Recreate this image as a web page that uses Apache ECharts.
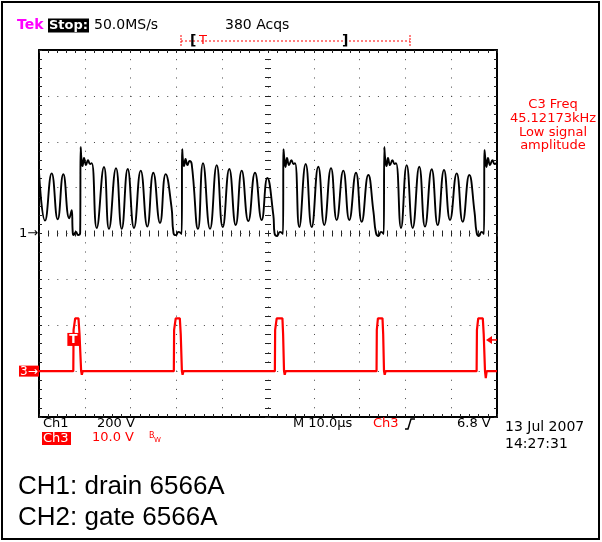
<!DOCTYPE html>
<html><head><meta charset="utf-8">
<script src="https://cdn.jsdelivr.net/npm/echarts@6/dist/echarts.min.js"></script>
<style>html,body{margin:0;padding:0;background:#fff}#c{width:602px;height:542px}</style>
</head><body><div id="c"></div>
<script>
// ---------- DATA ----------
// CH1 (drain) : [time µs, volts]  200 V/div, ground at centre
const ch1Points = [
  [0,268],[1.31,56],[2.77,262],[4.08,62],[5.31,258],[6.62,66],[7.14,102],
  [7.36,7],[7.53,-7],[8.08,7],[8.52,-7],[8.99,2],
  [9.10,377],[9.28,320],[9.50,294],[9.83,329],[10.26,298],[10.70,320],[11.14,303],[11.51,307],
  [12.60,24],[14.19,290],[15.28,20],[16.81,285],[18.06,20],[19.37,281],[20.74,24],[22.21,274],
  [23.65,30],[24.96,265],[26.42,46],[27.66,259],[28.93,115],
  [29.37,2],[29.91,-7],[30.46,7],[31.16,-2],
  [31.27,368],[31.44,316],[31.66,294],[31.99,325],[32.42,298],[32.86,316],[33.34,303],
  [34.72,20],[35.81,307],[37.34,20],[38.80,298],[40.11,28],[41.55,281],[42.95,37],[44.26,274],
  [45.70,54],[47.16,265],[48.62,59],[49.85,242],[51.16,81],
  [51.42,2],[51.97,-11],[52.62,7],[53.28,-2],
  [53.38,368],[53.60,320],[53.82,290],[54.15,329],[54.59,298],[55.13,320],[55.57,303],[55.90,307],
  [56.83,28],[58.23,303],[59.54,28],[60.98,291],[62.29,37],[63.76,285],[65.00,59],[66.44,274],
  [67.75,59],[69.21,265],[70.46,51],[71.90,255],[73.03,94],
  [73.58,2],[74.13,-11],[74.67,7],[75.28,-2],
  [75.39,377],[75.61,320],[75.87,294],[76.20,329],[76.64,298],[77.18,320],[77.62,303],[77.95,307],
  [79.04,24],[80.28,298],[81.59,24],[83.03,291],[84.28,30],[85.74,280],[87.05,37],[88.43,277],
  [89.74,59],[91.20,262],[92.51,51],[93.95,255],[95.09,94],
  [95.57,2],[96.07,-11],[96.62,7],[97.16,-2],
  [97.27,364],[97.49,320],[97.71,290],[98.03,329],[98.47,298],[99.02,320],[99.45,303],[100,307]
];
// CH3 (gate) : [time µs, volts]  10 V/div, ground one division above bottom
const ch3Points = [
  [0,0],
  [7.49,0],[7.55,9],[7.90,11.5],[8.62,11.5],[8.85,8],[9.20,0],[9.35,-0.8],[9.55,0],
  [29.44,0],[29.50,9],[29.85,11.5],[30.75,11.5],[30.95,8],[31.20,0],[31.35,-0.8],[31.55,0],
  [51.50,0],[51.56,9],[51.90,11.5],[53.15,11.5],[53.30,8],[53.50,0],[53.65,-0.8],[53.85,0],
  [73.70,0],[73.76,9],[74.00,11.5],[75.00,11.5],[75.15,8],[75.33,0],[75.48,-0.8],[75.68,0],
  [95.55,0],[95.62,9],[95.90,11.5],[96.90,11.5],[97.10,8],[97.38,0],[97.55,-1.5],[97.75,0],
  [100,0]
];
const timeRange = [0, 100];      // µs, 10 µs/div
const ch1Range = [-800, 800];    // V, 200 V/div
const ch3Range = [-10, 70];      // V, 10 V/div
const triggerTime = 7.5;         // µs
const triggerLevel = 6.8;        // V
const headerTexts = ['Tek', 'Stop:', '50.0MS/s', '380 Acqs'];
const measureTexts = ['C3 Freq', '45.12173kHz', 'Low signal', 'amplitude'];
const footerTexts = ['Ch1', '200 V', 'Ch3', '10.0 V', 'M 10.0µs', 'Ch3', '6.8 V', '13 Jul 2007', '14:27:31'];
const captionTexts = ['CH1: drain 6566A', 'CH2: gate 6566A'];

// ---------- CHART ----------
const chart = echarts.init(document.getElementById('c'), null, {renderer: 'canvas'});
const dotted = {color: '#444', width: 1, type: [1, 8.16]};
const tickStyle = {color: '#222', width: 1};
function divX(pos, extra) {
  return Object.assign({
    type: 'value', min: -5, max: 5, interval: 1, position: pos,
    axisLine: {show: true, onZero: false, lineStyle: {color: '#000', width: 2}},
    axisTick: {show: true, inside: true, length: 3, lineStyle: tickStyle},
    minorTick: {show: true, splitNumber: 5, length: 3, lineStyle: tickStyle},
    axisLabel: {show: false}, splitLine: {show: false}
  }, extra || {});
}
function divY(pos, extra) {
  return Object.assign({
    type: 'value', min: -4, max: 4, interval: 1, position: pos,
    axisLine: {show: true, onZero: false, lineStyle: {color: '#000', width: 2}},
    axisTick: {show: true, inside: true, length: 3, lineStyle: tickStyle},
    minorTick: {show: true, splitNumber: 5, length: 3, lineStyle: tickStyle},
    axisLabel: {show: false}, splitLine: {show: false}
  }, extra || {});
}
const F = '"DejaVu Sans", Verdana, sans-serif';

const option = {
  animation: false,
  backgroundColor: '#fff',
  grid: {left: 39, top: 50, width: 458, height: 367, containLabel: false},
  xAxis: [
    {type: 'value', min: timeRange[0], max: timeRange[1], show: false},
    divX('bottom', {splitLine: {show: true, lineStyle: dotted}}),
    divX('top'),
    divX('bottom', {axisLine: {show: false, onZero: true, onZeroAxisIndex: 2}}),
    divX('bottom', {axisLine: {show: false, onZero: true, onZeroAxisIndex: 2},
      axisTick: {show: true, inside: false, length: 3, lineStyle: tickStyle}})
  ],
  yAxis: [
    {type: 'value', min: ch1Range[0], max: ch1Range[1], show: false},
    {type: 'value', min: ch3Range[0], max: ch3Range[1], show: false},
    divY('left', {splitLine: {show: true, lineStyle: dotted}}),
    divY('right'),
    divY('left', {axisLine: {show: false, onZero: true, onZeroAxisIndex: 1}}),
    divY('left', {axisLine: {show: false, onZero: true, onZeroAxisIndex: 1},
      axisTick: {show: true, inside: false, length: 3, lineStyle: tickStyle}})
  ],
  series: [
    {name: 'CH1', type: 'line', xAxisIndex: 0, yAxisIndex: 0, data: ch1Points,
     showSymbol: false, smooth: 0.5, z: 4, clip: true,
     lineStyle: {color: '#000', width: 1.9}},
    {name: 'CH3', type: 'line', xAxisIndex: 0, yAxisIndex: 1, data: ch3Points,
     showSymbol: false, z: 5, clip: true,
     lineStyle: {color: '#ff0000', width: 2.2}}
  ]
};
chart.setOption(option);

// positions of reference markers from the axes
const g1 = chart.convertToPixel({xAxisIndex: 0, yAxisIndex: 0}, [timeRange[0], 0]);
const g3 = chart.convertToPixel({xAxisIndex: 0, yAxisIndex: 1}, [timeRange[0], 0]);
const trg = chart.convertToPixel({xAxisIndex: 0, yAxisIndex: 1}, [triggerTime, triggerLevel]);
const lvl = chart.convertToPixel({xAxisIndex: 0, yAxisIndex: 1}, [timeRange[1], triggerLevel]);

function txt(x, y, s, fill, size, weight, align, family) {
  return {type: 'text', x: x, y: y, z: 10, silent: true,
    style: {text: s, fill: fill || '#000', font: (weight || 'normal') + ' ' + (size || 13) + 'px ' + (family || F),
      textAlign: align || 'left', textVerticalAlign: 'middle'}};
}
const gr = [
  // outer frame
  {type: 'rect', shape: {x: 2, y: 2, width: 597, height: 537}, style: {fill: 'none', stroke: '#000', lineWidth: 2}, z: 10},
  // header
  txt(17, 25, headerTexts[0], '#ff00ff', 14, 'bold'),
  {type: 'rect', shape: {x: 48, y: 18.5, width: 41, height: 14}, style: {fill: '#000'}, z: 10},
  txt(49, 25.5, headerTexts[1], '#fff', 13, 'bold'),
  txt(94, 25, headerTexts[2], '#000', 14),
  txt(225, 25, headerTexts[3], '#000', 14),
  // record bar
  {type: 'line', shape: {x1: 181, y1: 41, x2: 410, y2: 41}, style: {stroke: '#ff0000', lineWidth: 1, lineDash: [2, 2]}, z: 10},
  {type: 'line', shape: {x1: 181, y1: 35, x2: 181, y2: 47}, style: {stroke: '#ff0000', lineWidth: 1, lineDash: [2, 1]}, z: 10},
  {type: 'line', shape: {x1: 410, y1: 35, x2: 410, y2: 47}, style: {stroke: '#ff0000', lineWidth: 1, lineDash: [2, 1]}, z: 10},
  txt(190, 41, '[', '#000', 14, 'bold'),
  txt(199, 41, 'T', '#ff0000', 13),
  txt(342, 41, ']', '#000', 14, 'bold'),
  // measurement
  txt(553, 105, measureTexts[0], '#ff0000', 13, 'normal', 'center'),
  txt(553, 119, measureTexts[1], '#ff0000', 13, 'normal', 'center'),
  txt(553, 132.5, measureTexts[2], '#ff0000', 13, 'normal', 'center'),
  txt(553, 146, measureTexts[3], '#ff0000', 13, 'normal', 'center'),
  // channel ground markers
  txt(19, g1[1], '1→', '#000', 13),
  {type: 'rect', shape: {x: 19, y: g3[1] - 5.5, width: 20, height: 11}, style: {fill: '#ff0000'}, z: 10},
  txt(20, g3[1] + 0.5, '3→', '#fff', 12),
  // trigger marker
  {type: 'rect', shape: {x: trg[0] - 6, y: trg[1] - 7, width: 12, height: 13}, style: {fill: '#ff0000'}, z: 10},
  txt(trg[0], trg[1] - 0.5, 'T', '#fff', 12, 'bold', 'center'),
  {type: 'polygon', shape: {points: [[lvl[0] - 11, lvl[1]], [lvl[0] - 5, lvl[1] - 4], [lvl[0] - 5, lvl[1] + 4]]}, style: {fill: '#ff0000'}, z: 10},
  {type: 'line', shape: {x1: lvl[0] - 6, y1: lvl[1], x2: lvl[0], y2: lvl[1]}, style: {stroke: '#ff0000', lineWidth: 1.5}, z: 10},
  // footer
  txt(43, 424, footerTexts[0], '#000', 13),
  txt(97, 424, footerTexts[1], '#000', 13),
  {type: 'rect', shape: {x: 42, y: 432, width: 29, height: 13}, style: {fill: '#ff0000'}, z: 10},
  txt(43, 438.5, footerTexts[2], '#fff', 13),
  txt(92, 438, footerTexts[3], '#ff0000', 13),
  txt(149, 436, 'B', '#ff0000', 8),
  txt(154, 440, 'W', '#ff0000', 7),
  txt(293, 424, footerTexts[4], '#000', 13),
  txt(373, 424, footerTexts[5], '#ff0000', 13),
  {type: 'polyline', shape: {points: [[405, 429], [408, 429], [411, 419], [415, 419]]}, style: {stroke: '#000', lineWidth: 1.5, fill: 'none'}, z: 10},
  txt(457, 424, footerTexts[6], '#000', 13),
  txt(505, 427, footerTexts[7], '#000', 14),
  txt(505, 444, footerTexts[8], '#000', 14),
  // captions
  txt(18, 487, captionTexts[0], '#000', 26, 'normal', 'left', '"Liberation Sans", Arial, sans-serif'),
  txt(18, 518, captionTexts[1], '#000', 26, 'normal', 'left', '"Liberation Sans", Arial, sans-serif')
];
chart.setOption({graphic: {elements: gr}});
</script></body></html>
